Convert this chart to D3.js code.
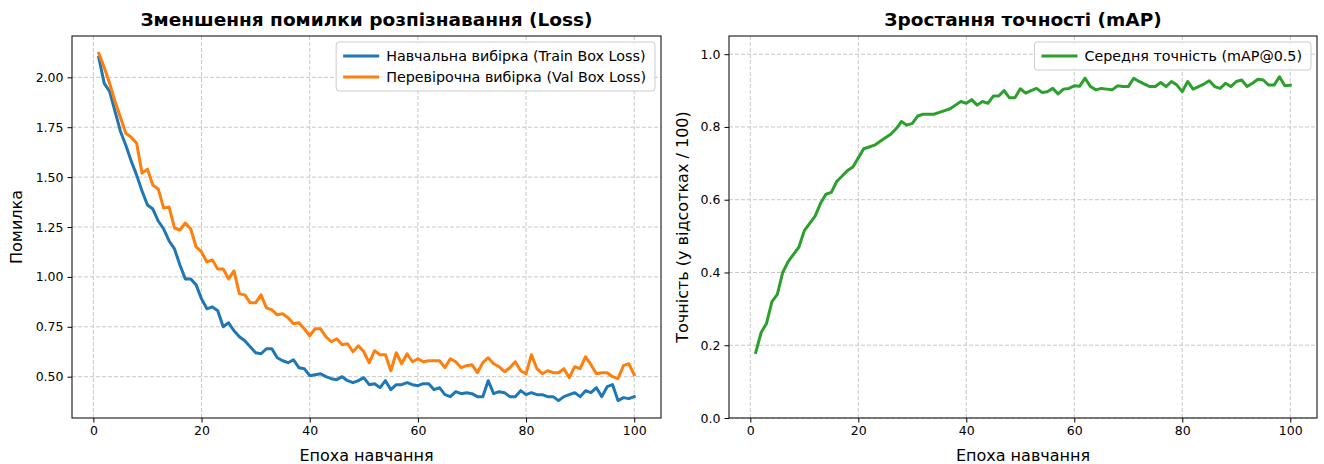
<!DOCTYPE html>
<html>
<head>
<meta charset="utf-8">
<script src="https://cdn.jsdelivr.net/npm/d3@7"></script>
<style>
  body { margin: 0; background: #fff; }
  svg { display: block; font-family: "DejaVu Sans", sans-serif; }
</style>
</head>
<body>
<svg id="chart" width="1324" height="464"></svg>
<script>
"use strict";

// epochs 1..100
let epochs = d3.range(1, 101);

let trainLoss = [
  2.10, 1.97, 1.93, 1.83, 1.73, 1.66, 1.58, 1.51, 1.43, 1.36,
  1.34, 1.28, 1.24, 1.18, 1.14, 1.06, 0.99, 0.99, 0.96, 0.89,
  0.84, 0.85, 0.83, 0.75, 0.77, 0.73, 0.70, 0.68, 0.65, 0.62,
  0.615, 0.64, 0.64, 0.595, 0.58, 0.57, 0.585, 0.545, 0.54, 0.505,
  0.51, 0.515, 0.50, 0.49, 0.485, 0.50, 0.48, 0.47, 0.48, 0.495,
  0.46, 0.465, 0.445, 0.48, 0.435, 0.46, 0.46, 0.47, 0.46, 0.455,
  0.465, 0.465, 0.435, 0.445, 0.41, 0.40, 0.425, 0.415, 0.42, 0.415,
  0.40, 0.40, 0.48, 0.415, 0.425, 0.42, 0.40, 0.40, 0.43, 0.41,
  0.42, 0.41, 0.41, 0.40, 0.40, 0.38, 0.40, 0.41, 0.42, 0.40,
  0.43, 0.42, 0.445, 0.40, 0.45, 0.46, 0.38, 0.395, 0.39, 0.40
];

let valLoss = [
  2.12, 2.05, 1.97, 1.88, 1.80, 1.72, 1.70, 1.67, 1.52, 1.54,
  1.46, 1.44, 1.345, 1.35, 1.245, 1.235, 1.27, 1.24, 1.15, 1.125,
  1.075, 1.085, 1.04, 1.04, 0.99, 1.03, 0.915, 0.91, 0.87, 0.87,
  0.91, 0.845, 0.835, 0.81, 0.815, 0.795, 0.765, 0.77, 0.74, 0.705,
  0.74, 0.74, 0.70, 0.675, 0.69, 0.66, 0.665, 0.625, 0.655, 0.625,
  0.57, 0.63, 0.61, 0.61, 0.53, 0.62, 0.565, 0.615, 0.575, 0.59,
  0.575, 0.58, 0.58, 0.58, 0.545, 0.59, 0.575, 0.545, 0.555, 0.56,
  0.52, 0.57, 0.595, 0.565, 0.55, 0.525, 0.545, 0.575, 0.53, 0.515,
  0.61, 0.54, 0.515, 0.53, 0.52, 0.52, 0.54, 0.495, 0.55, 0.54,
  0.60, 0.56, 0.515, 0.52, 0.52, 0.50, 0.49, 0.555, 0.565, 0.51
];

let mapScore = [
  0.18, 0.235, 0.26, 0.32, 0.34, 0.40, 0.43, 0.45, 0.47, 0.515,
  0.535, 0.555, 0.59, 0.615, 0.62, 0.65, 0.665, 0.68, 0.69, 0.715,
  0.74, 0.745, 0.75, 0.76, 0.77, 0.78, 0.795, 0.815, 0.805, 0.81,
  0.83, 0.835, 0.835, 0.835, 0.84, 0.845, 0.85, 0.86, 0.87, 0.865,
  0.875, 0.86, 0.87, 0.865, 0.885, 0.885, 0.90, 0.88, 0.88, 0.905,
  0.893, 0.90, 0.906, 0.895, 0.897, 0.906, 0.891, 0.904, 0.906, 0.913,
  0.912, 0.934, 0.911, 0.902, 0.906, 0.904, 0.902, 0.913, 0.911, 0.911,
  0.934, 0.925, 0.918, 0.911, 0.911, 0.922, 0.911, 0.925, 0.915, 0.897,
  0.925, 0.904, 0.911, 0.918, 0.927, 0.911, 0.906, 0.92, 0.911, 0.925,
  0.929, 0.911, 0.92, 0.931, 0.929, 0.915, 0.915, 0.938, 0.913, 0.915
];

let xTicks = [0, 20, 40, 60, 80, 100];
let lossTicks = [0.5, 0.75, 1.0, 1.25, 1.5, 1.75, 2.0];
let mapTicks = [0.0, 0.2, 0.4, 0.6, 0.8, 1.0];

let seriesColors = { train: '#1f77b4', val: '#ff7f0e', map: '#2ca02c' };

let svg = d3.select('#chart');

let tickFont = 12.5, labelFont = 16, titleFont = 18.5, legendFont = 14.3;

// matplotlib-like 5% padding around the data
let padExtent = (lo, hi) => {
  let m = (hi - lo) * 0.05;
  return [lo - m, hi + m];
};

let drawPanel = opts => {
  let g = svg.append('g');
  let x = d3.scaleLinear()
    .domain(padExtent(d3.min(epochs), d3.max(epochs)))
    .range([opts.left, opts.right]);
  let y = d3.scaleLinear()
    .domain(opts.yDomain)
    .range([opts.bottom, opts.top]);

  // grid
  g.append('g').selectAll('line.gx')
    .data(xTicks).enter()
    .append('line')
    .attr('x1', d => x(d)).attr('x2', d => x(d))
    .attr('y1', opts.top).attr('y2', opts.bottom)
    .attr('stroke', '#c8c8c8').attr('stroke-width', 1)
    .attr('stroke-dasharray', '4,2');
  g.append('g').selectAll('line.gy')
    .data(opts.yTicks).enter()
    .append('line')
    .attr('x1', opts.left).attr('x2', opts.right)
    .attr('y1', d => y(d)).attr('y2', d => y(d))
    .attr('stroke', '#c8c8c8').attr('stroke-width', 1)
    .attr('stroke-dasharray', '4,2');

  // lines
  let line = d3.line()
    .x((d, i) => x(epochs[i]))
    .y(d => y(d));
  opts.series.forEach(s => {
    g.append('path')
      .datum(s.values)
      .attr('d', line)
      .attr('fill', 'none')
      .attr('stroke', s.color)
      .attr('stroke-width', 3)
      .attr('stroke-linejoin', 'round')
      .attr('stroke-linecap', 'square');
  });

  // axes
  let xAxis = g.append('g')
    .attr('transform', 'translate(0,' + opts.bottom + ')')
    .call(d3.axisBottom(x).tickValues(xTicks).tickSize(4.5).tickPadding(4).tickFormat(d3.format('d')));
  let yAxis = g.append('g')
    .attr('transform', 'translate(' + opts.left + ',0)')
    .call(d3.axisLeft(y).tickValues(opts.yTicks).tickSize(4.5).tickPadding(4).tickFormat(d3.format(opts.fmt)));
  [xAxis, yAxis].forEach(a => {
    a.select('.domain').remove();
    a.selectAll('line').attr('stroke', '#000').attr('stroke-width', 1);
    a.selectAll('text')
      .attr('fill', '#000')
      .style('font-size', tickFont + 'px')
      .style('font-family', '"DejaVu Sans", sans-serif');
  });

  // frame
  g.append('rect')
    .attr('x', opts.left).attr('y', opts.top)
    .attr('width', opts.right - opts.left)
    .attr('height', opts.bottom - opts.top)
    .attr('fill', 'none')
    .attr('stroke', '#000')
    .attr('stroke-width', 1);

  // title and labels
  let cx = (opts.left + opts.right) / 2;
  g.append('text')
    .attr('x', cx).attr('y', opts.top - 10)
    .attr('text-anchor', 'middle')
    .style('font-size', titleFont + 'px')
    .style('font-weight', 'bold')
    .text(opts.title);
  g.append('text')
    .attr('x', cx).attr('y', opts.bottom + 43)
    .attr('text-anchor', 'middle')
    .style('font-size', labelFont + 'px')
    .text(opts.xLabel);
  g.append('text')
    .attr('transform', 'translate(' + opts.yLabelX + ',' + ((opts.top + opts.bottom) / 2) + ') rotate(-90)')
    .attr('text-anchor', 'middle')
    .style('font-size', labelFont + 'px')
    .text(opts.yLabel);

  // legend, upper right
  let fs = legendFont;
  let inset = 7, hl = 36, htp = 7, rowStep = 21, edge = 14;
  let lg = g.append('g');
  let box = lg.append('rect');
  let texts = opts.series.map(s => {
    return lg.append('text')
      .style('font-size', fs + 'px')
      .text(s.label);
  });
  let maxW = d3.max(texts, t => t.node().getComputedTextLength());
  let w = inset + hl + htp + maxW + 9;
  let h = 2 * edge + (opts.series.length - 1) * rowStep;
  let bx = opts.right - 6 - w, by = opts.top + 6;
  box.attr('x', bx).attr('y', by)
    .attr('width', w).attr('height', h)
    .attr('rx', 3)
    .attr('fill', '#fff').attr('fill-opacity', 0.8)
    .attr('stroke', '#cccccc').attr('stroke-width', 1);
  opts.series.forEach((s, i) => {
    let cy = by + edge + i * rowStep;
    lg.append('line')
      .attr('x1', bx + inset).attr('x2', bx + inset + hl)
      .attr('y1', cy).attr('y2', cy)
      .attr('stroke', s.color).attr('stroke-width', 3);
    texts[i]
      .attr('x', bx + inset + hl + htp)
      .attr('y', cy)
      .attr('dy', '0.36em');
  });
};

drawPanel({
  left: 72, right: 661, top: 36, bottom: 418,
  yDomain: padExtent(d3.min(trainLoss.concat(valLoss)), d3.max(trainLoss.concat(valLoss))),
  yTicks: lossTicks, fmt: '.2f',
  title: 'Зменшення помилки розпізнавання (Loss)',
  xLabel: 'Епоха навчання',
  yLabel: 'Помилка', yLabelX: 22,
  series: [
    { values: trainLoss, color: seriesColors.train, label: 'Навчальна вибірка (Train Box Loss)' },
    { values: valLoss, color: seriesColors.val, label: 'Перевірочна вибірка (Val Box Loss)' }
  ]
});

drawPanel({
  left: 729, right: 1317, top: 36, bottom: 418,
  yDomain: [0, 1.05],
  yTicks: mapTicks, fmt: '.1f',
  title: 'Зростання точності (mAP)',
  xLabel: 'Епоха навчання',
  yLabel: 'Точність (у відсотках / 100)', yLabelX: 688,
  series: [
    { values: mapScore, color: seriesColors.map, label: 'Середня точність (mAP@0.5)' }
  ]
});
</script>
</body>
</html>
